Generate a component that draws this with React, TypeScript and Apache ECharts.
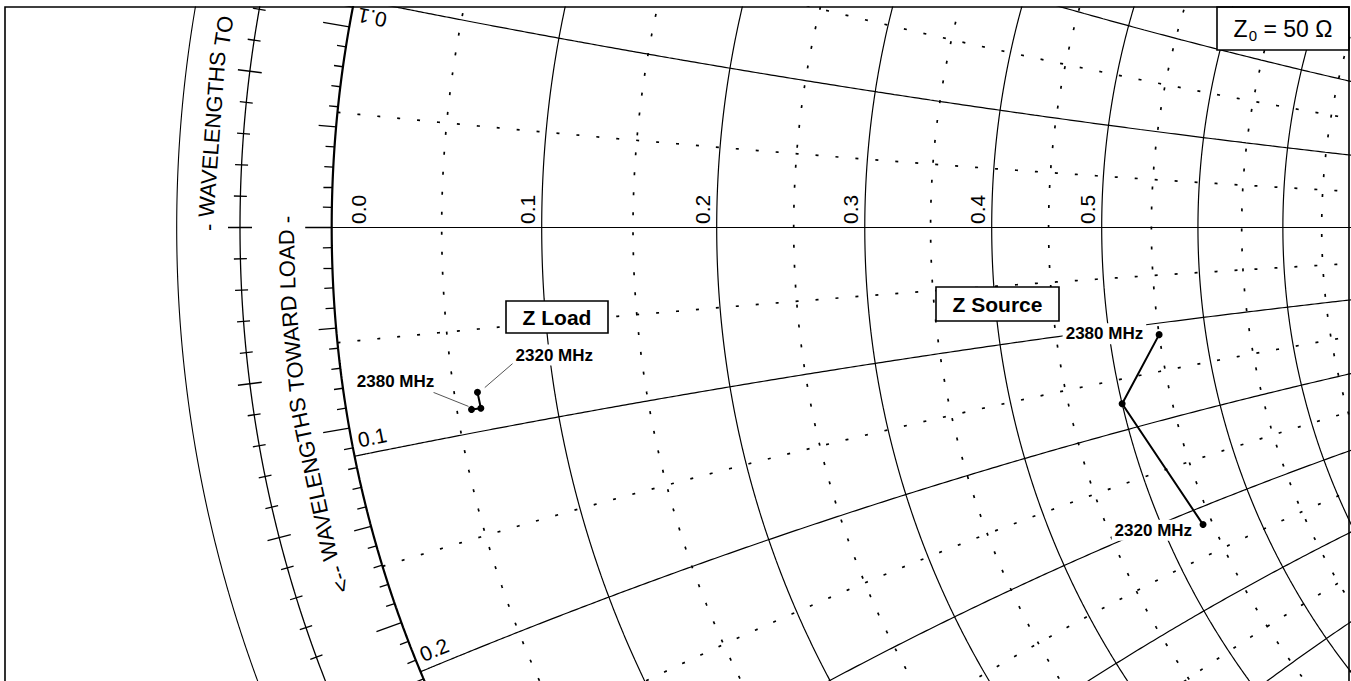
import React, { useEffect, useRef } from 'react';
import * as echarts from 'echarts';

// ---- measured impedances (ohms) ----
const Z0_OHMS = 50;
const freqMHz = [2320, 2350, 2380];
const loadR = [3.06, 3.08, 2.85];
const loadX = [-4.04, -4.44, -4.43];
const sourceR = [27.0, 25.0, 27.5];
const sourceX = [-15.9, -8.7, -5.6];

// ---- Smith chart grid (normalised values) ----
const rSolid = [0.1, 0.2, 0.3, 0.4, 0.5, 0.6, 0.7, 0.8, 0.9, 1.0];
const rDotted = [0.05, 0.15, 0.25, 0.35, 0.45, 0.55, 0.65, 0.75, 0.85, 0.95];
const xSolid = [0.1, 0.2, 0.3, 0.4, 0.5, 0.6, 0.7, 0.8, 0.9, 1.0];
const xDotted = [0.05, 0.15, 0.25, 0.35, 0.45, 0.55, 0.65, 0.75, 0.85, 0.95];
const rLabelValues = [0, 0.1, 0.2, 0.3, 0.4, 0.5];
const xLabelValues = [0.1, -0.1, -0.2];
const innerScaleWords = ['<--', 'WAVELENGTHS', 'TOWARD', 'LOAD', '-'];
const outerScaleWords = ['-', 'WAVELENGTHS', 'TO'];
const angleTickDeg = 1; // reflection-coefficient angle ring
const wavelengthTick = 0.002; // wavelength ring step (λ)

// ---- layout ----
const W = 1351;
const H = 681;
const FRAME_L = 5;
const FRAME_T = 7;
const FRAME_R = 1349;
const CX = 1486.7; // pixel of Γ = 0
const CY = 227.5;
const PX = 1155; // pixels per unit |Γ|
const X_MIN = (FRAME_L - CX) / PX;
const X_MAX = (FRAME_R - CX) / PX;
const Y_MAX = (CY - FRAME_T) / PX;
const Y_MIN = (CY - H) / PX;
const RING_B = 1246.7 / PX;
const RING_C = 1310 / PX;
const TEXT_IN = 1200 / PX;
const TEXT_OUT = 1278 / PX;

const FONT = "'Liberation Sans', Arial, Helvetica, sans-serif";

// z = r + jx  ->  Γ
const gamma = (r: number, x: number): [number, number] => {
  const d = (r + 1) * (r + 1) + x * x;
  return [(r * r - 1 + x * x) / d, (2 * x) / d];
};

const resistanceCircle = (r: number) => {
  const c = r / (1 + r);
  const rho = 1 / (1 + r);
  const pts: number[][] = [];
  const n = 2400;
  for (let i = 0; i <= n; i++) {
    const t = (i / n) * 2 * Math.PI;
    pts.push([c + rho * Math.cos(t), rho * Math.sin(t)]);
  }
  return pts;
};

const reactanceArc = (x: number) => {
  const pts: number[][] = [];
  const n = 900;
  for (let i = 0; i <= n; i++) {
    const r = 6 * (i / n) * (i / n);
    pts.push(gamma(r, x));
  }
  return pts;
};

const ringArc = (R: number) => {
  const pts: number[][] = [];
  const n = 600;
  for (let i = 0; i <= n; i++) {
    const t = Math.PI - 0.7 + (1.4 * i) / n;
    pts.push([R * Math.cos(t), R * Math.sin(t)]);
  }
  return pts;
};

const lineSeries = (data: number[][], width: number, type: any = 'solid', z = 2) => ({
  type: 'line',
  data,
  showSymbol: false,
  symbol: 'none',
  silent: true,
  clip: true,
  z,
  emphasis: { disabled: true },
  lineStyle: { color: '#000', width, type, cap: 'butt' },
});

const DOT = [3, 17];

function buildSeries() {
  const series: any[] = [];
  series.push(lineSeries(ringArc(RING_C), 1.1));
  series.push(lineSeries(ringArc(RING_B), 1.3));

  // tick marks on the angle ring (outside |Γ| = 1) and on the wavelength ring
  const ticks: any[] = [];
  for (let k = -40; k <= 40; k += angleTickDeg) {
    const th = (k * Math.PI) / 180;
    const len = (k % 10 === 0 ? 26.5 : k % 5 === 0 ? 17.5 : 9) / PX;
    const c = -Math.cos(th);
    const s = Math.sin(th);
    ticks.push({ coords: [[c, s], [c * (1 + len), s * (1 + len)]] });
  }
  const stepB = wavelengthTick * 4 * Math.PI;
  for (let k = -25; k <= 25; k++) {
    const th = k * stepB;
    const half = (k % 5 === 0 ? 12 : 6.5) / PX;
    const c = -Math.cos(th);
    const s = Math.sin(th);
    ticks.push({ coords: [[c * (RING_B - half), s * (RING_B - half)], [c * (RING_B + half), s * (RING_B + half)]] });
  }
  series.push({
    type: 'lines',
    coordinateSystem: 'cartesian2d',
    data: ticks,
    silent: true,
    clip: true,
    lineStyle: { color: '#000', width: 1.3, opacity: 1 },
    z: 2,
  });

  // real axis
  series.push(lineSeries([[-1, 0], [1, 0]], 1.2));

  rDotted.forEach((r) => series.push(lineSeries(resistanceCircle(r), 1.7, DOT)));
  xDotted.forEach((x) => {
    series.push(lineSeries(reactanceArc(x), 1.7, DOT));
    series.push(lineSeries(reactanceArc(-x), 1.7, DOT));
  });
  rSolid.forEach((r) => series.push(lineSeries(resistanceCircle(r), 1.2)));
  xSolid.forEach((x) => {
    series.push(lineSeries(reactanceArc(x), 1.2));
    series.push(lineSeries(reactanceArc(-x), 1.2));
  });
  // outer circle r = 0
  series.push(lineSeries(resistanceCircle(0), 2.2, 'solid', 3));

  const toGamma = (R: number[], X: number[]) => R.map((r, i) => gamma(r / Z0_OHMS, X[i] / Z0_OHMS));
  const pointSeries = (name: string, data: number[][]) => ({
    type: 'line',
    name,
    data,
    symbol: 'circle',
    symbolSize: 7,
    showSymbol: true,
    silent: true,
    clip: true,
    z: 6,
    itemStyle: { color: '#000' },
    lineStyle: { color: '#000', width: 2 },
  });
  series.push(pointSeries('Z Load', toGamma(loadR, loadX)));
  series.push(pointSeries('Z Source', toGamma(sourceR, sourceX)));
  return series;
}

let measureCtx: CanvasRenderingContext2D | null = null;
const measure = (t: string, font: string) => {
  if (!measureCtx) measureCtx = document.createElement('canvas').getContext('2d');
  measureCtx!.font = font;
  return measureCtx!.measureText(t).width;
};

function buildGraphics(toPx: (p: number[]) => number[]) {
  const els: any[] = [];
  const o = toPx([0, 0]);
  const unit = toPx([1, 0])[0] - o[0];

  // words set along a circle, reading upward on the left side
  const onArc = (words: string[], radius: number, anchor: number, anchorAtEnd: boolean, font: string) => {
    const R = radius * unit;
    const sp = measure(' ', font);
    const widths = words.map((w) => measure(w, font));
    const total = widths.reduce((a, b) => a + b, 0) + sp * (words.length - 1);
    let s = anchorAtEnd ? anchor * R - total : anchor * R;
    words.forEach((w, i) => {
      const th = (s + widths[i] / 2) / R;
      s += widths[i] + sp;
      els.push({
        type: 'text',
        x: o[0] - R * Math.cos(th),
        y: o[1] - R * Math.sin(th),
        rotation: Math.PI / 2 - th,
        z: 100,
        style: { text: w, font, fill: '#000', align: 'center', verticalAlign: 'middle' },
      });
    });
  };
  const scaleFont = `22px ${FONT}`;
  onArc(innerScaleWords, TEXT_IN, 0.0096, true, scaleFont);
  onArc(outerScaleWords, TEXT_OUT, -0.0027, false, scaleFont);

  // resistance labels along the real axis
  rLabelValues.forEach((r) => {
    const p = toPx(gamma(r, 0));
    els.push({
      type: 'text',
      x: r === 0 ? p[0] + 26.6 : p[0] - 14.5,
      y: p[1] - 3.5,
      rotation: Math.PI / 2,
      z: 100,
      style: { text: r.toFixed(1), font: `21px ${FONT}`, fill: '#000', align: 'left', verticalAlign: 'middle' },
    });
  });

  // reactance labels where the arcs meet the outer circle
  xLabelValues.forEach((x) => {
    const g = gamma(0, x);
    const p = toPx(g);
    const ux = -g[0];
    const uy = g[1]; // screen direction along the arc, inward
    const sgn = x < 0 ? -1 : 1;
    const nx = -Math.abs(g[1]);
    const ny = sgn * Math.abs(g[0]);
    let rot = Math.atan2(-uy, ux);
    if (x > 0) rot += Math.PI;
    els.push({
      type: 'text',
      x: p[0] + 21 * ux + 15 * nx,
      y: p[1] + 21 * uy + 15 * ny,
      rotation: rot,
      z: 100,
      style: { text: Math.abs(x).toFixed(1), font: `21px ${FONT}`, fill: '#000', align: 'center', verticalAlign: 'middle' },
    });
  });

  // frequency labels
  const lp = loadR.map((r, i) => toPx(gamma(r / Z0_OHMS, loadX[i] / Z0_OHMS)));
  const sp = sourceR.map((r, i) => toPx(gamma(r / Z0_OHMS, sourceX[i] / Z0_OHMS)));
  const last = freqMHz.length - 1;
  const freqLabel = (p: number[], dx: number, dy: number, f: number) =>
    els.push({
      type: 'text',
      x: p[0] + dx,
      y: p[1] + dy,
      z: 110,
      style: {
        text: `${f} MHz`,
        font: `bold 17px ${FONT}`,
        fill: '#000',
        align: 'center',
        verticalAlign: 'middle',
        backgroundColor: '#fff',
        padding: [2, 3],
      },
    });
  const leader = (p: number[], a: number[], b: number[]) =>
    els.push({
      type: 'line',
      z: 105,
      shape: { x1: p[0] + a[0], y1: p[1] + a[1], x2: p[0] + b[0], y2: p[1] + b[1] },
      style: { stroke: '#555', lineWidth: 1 },
    });
  leader(lp[0], [36.3, -29.7], [7.3, -4.7]);
  leader(lp[last], [-38, -17], [-3, -3]);
  freqLabel(lp[0], 76.8, -37.2, freqMHz[0]);
  freqLabel(lp[last], -76, -28, freqMHz[last]);
  freqLabel(sp[last], -54.7, -1, freqMHz[last]);
  freqLabel(sp[0], -49.7, 5.7, freqMHz[0]);

  // boxed titles
  const box = (x: number, y: number, w: number, h: number, text: string) => {
    els.push({ type: 'rect', z: 110, shape: { x, y, width: w, height: h }, style: { fill: '#fff', stroke: '#000', lineWidth: 1.6 } });
    els.push({
      type: 'text',
      z: 111,
      x: x + w / 2,
      y: y + h / 2,
      style: { text, font: `bold 21px ${FONT}`, fill: '#000', align: 'center', verticalAlign: 'middle' },
    });
  };
  box(506, 301, 102, 32, 'Z Load');
  box(936, 287, 123, 34, 'Z Source');

  // reference impedance box
  els.push({ type: 'rect', z: 110, shape: { x: 1217, y: FRAME_T, width: FRAME_R - 1217, height: 43 }, style: { fill: '#fff', stroke: '#000', lineWidth: 1.6 } });
  els.push({
    type: 'text',
    z: 111,
    x: (1217 + FRAME_R) / 2,
    y: 28.5,
    style: {
      text: `{a|Z}{s|0}{a| = ${Z0_OHMS} Ω}`,
      align: 'center',
      verticalAlign: 'middle',
      fill: '#000',
      rich: {
        a: { fontSize: 23, fontFamily: FONT, fill: '#000' },
        s: { fontSize: 15, fontFamily: FONT, fill: '#000', padding: [13, 0, 0, 1] },
      },
    },
  });

  // frame
  els.push({
    type: 'polyline',
    z: 120,
    shape: { points: [[FRAME_L, H + 5], [FRAME_L, FRAME_T], [FRAME_R, FRAME_T], [FRAME_R, H + 5]] },
    style: { stroke: '#000', lineWidth: 1.6, fill: 'none' },
  });
  return els;
}

export default function App() {
  const ref = useRef<HTMLDivElement>(null);
  useEffect(() => {
    document.body.style.margin = '0';
    const chart = echarts.init(ref.current!, null, { renderer: 'svg' });
    chart.setOption({
      animation: false,
      backgroundColor: '#fff',
      grid: { left: FRAME_L, right: W - FRAME_R, top: FRAME_T, bottom: 0, containLabel: false, outerBoundsMode: 'none' },
      xAxis: { type: 'value', min: X_MIN, max: X_MAX, show: false },
      yAxis: { type: 'value', min: Y_MIN, max: Y_MAX, show: false },
      series: buildSeries(),
    } as any);
    const toPx = (p: number[]) => chart.convertToPixel({ gridIndex: 0 }, p) as number[];
    chart.setOption({ graphic: { elements: buildGraphics(toPx) } } as any);
    return () => chart.dispose();
  }, []);
  return <div ref={ref} style={{ width: W, height: H }} />;
}
